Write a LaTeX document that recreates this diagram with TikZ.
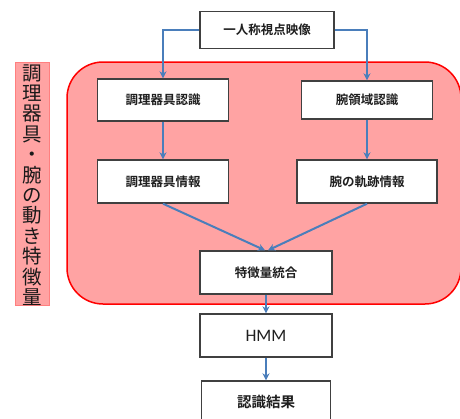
\documentclass[tikz,border=0pt]{standalone}
\usepackage{fontspec}
\newfontfamily\cjk{Noto Sans CJK JP}
\newfontfamily\cjkb{Noto Sans CJK JP Bold}
\newfontfamily\latin{Carlito}
\usetikzlibrary{arrows.meta}
\definecolor{arrowblue}{HTML}{4A7EBB}
\definecolor{boxedge}{HTML}{404040}
\definecolor{regionfill}{HTML}{FFA3A3}
\definecolor{labelfill}{HTML}{FFA3A3}
\definecolor{labeledge}{HTML}{FF7F7F}
\tikzset{
  stepbox/.style={draw=boxedge, line width=1.4pt, fill=white, inner sep=0pt,
    font=\cjkb\fontsize{12.5}{14}\selectfont, text=black!88},
  conn/.style={draw=arrowblue, line width=2pt, -{Stealth[length=7pt,width=7pt]}}
}
\begin{document}
\begin{tikzpicture}[x=1pt,y=-1pt]
\useasboundingbox (0,0) rectangle (460,418);
\begin{scope}
\clip (0,0) rectangle (460,418);
% region
\draw[draw=red, line width=1.5pt, fill=regionfill, rounded corners=36pt] (67,62) rectangle (461,304);
% left label
\draw[draw=labeledge, line width=0.8pt, fill=labelfill] (15,62) rectangle (49,305);
\node[align=center, font=\cjk\fontsize{19.5}{20.4}\selectfont, text=black!90, inner sep=0pt] (lbl) at (32,185)
  {調\\理\\器\\具\\・\\腕\\の\\動\\き\\特\\徴\\量};
% nodes
\node[stepbox, minimum width=134pt, minimum height=37pt] (top) at (267,30) {一人称視点映像};
\node[stepbox, minimum width=131pt, minimum height=42pt] (a1) at (163,100) {調理器具認識};
\node[stepbox, minimum width=131pt, minimum height=38pt] (b1) at (367,100) {腕領域認識};
\node[stepbox, minimum width=131pt, minimum height=43pt] (a2) at (163,181.5) {調理器具情報};
\node[stepbox, minimum width=140pt, minimum height=43pt] (b2) at (367,181.5) {腕の軌跡情報};
\node[stepbox, minimum width=132pt, minimum height=43pt] (c) at (266,272.5) {特徴量統合};
\node[stepbox, minimum width=132pt, minimum height=43pt, font=\latin\fontsize{17.5}{20}\selectfont] (hmm) at (266,335.5) {HMM};
\node[stepbox, minimum width=129pt, minimum height=43pt, font=\cjkb\fontsize{14.5}{16}\selectfont] (res) at (266,402.5) {認識結果};
% connectors
\draw[conn] (top.west) -| (a1.north);
\draw[conn] (top.east) -| (b1.north);
\draw[conn] (a1.south) -- (a2.north);
\draw[conn] (b1.south) -- (b1.south |- b2.north);
\draw[conn] (a2.south) -- ([xshift=-1pt]c.north);
\draw[conn] (b2.south) -- ([xshift=2pt]c.north);
\draw[conn] (c.south) -- (hmm.north);
\draw[conn] (hmm.south) -- (hmm.south |- res.north);
\end{scope}
\end{tikzpicture}
\end{document}
